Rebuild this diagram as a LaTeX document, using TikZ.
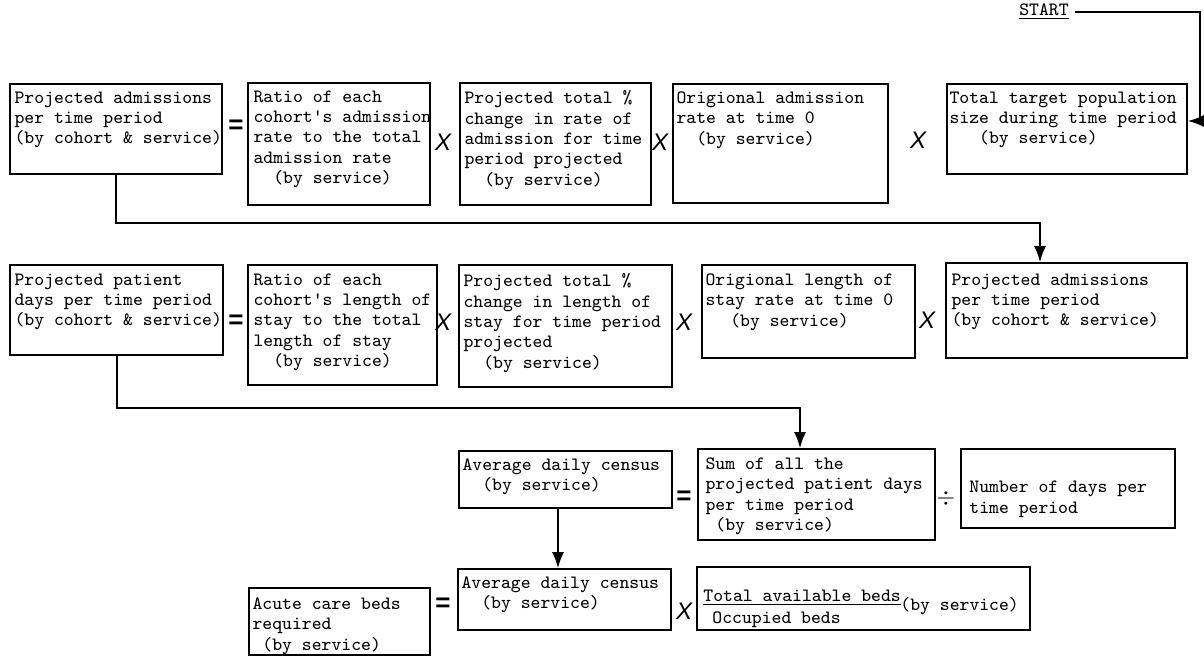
\documentclass[tikz,border=0pt]{standalone}
\usepackage{fontspec}
\usetikzlibrary{fit,arrows.meta}
\newfontfamily\opfont{Liberation Sans}
\newcommand\indc[1]{\hspace*{#1\fontdimen2\font}}
\tikzset{
  box/.style={draw, line width=0.8pt, inner sep=0pt},
  txt/.style={anchor=north west, inner sep=0pt, align=left,
    font=\ttfamily\fontsize{9.4}{10.2}\selectfont},
  conn/.style={line width=1pt},
  arr/.style={conn, -{Latex[length=8pt,width=6pt]}},
  op/.style={inner sep=0pt, font=\opfont\itshape\fontsize{12}{12}\selectfont},
  eqop/.style={inner sep=0pt, font=\opfont\bfseries\fontsize{13}{13}\selectfont},
}
\begin{document}
\begin{tikzpicture}[x=0.5pt,y=-0.5pt]
\useasboundingbox (0,0) rectangle (1204,657);

% ---- boxes ----
\node[box, fit={(10,84) (222,174)}]   (A1) {};
\node[box, fit={(248,83) (430,205)}]  (A2) {};
\node[box, fit={(460,83) (651,205)}]  (A3) {};
\node[box, fit={(673,84) (888,203)}]  (A4) {};
\node[box, fit={(947,84) (1187,174)}] (A5) {};

\node[box, fit={(10,265) (223,355)}]   (B1) {};
\node[box, fit={(248,265) (437,385)}]  (B2) {};
\node[box, fit={(459,265) (672,387)}]  (B3) {};
\node[box, fit={(702,265) (915,358)}]  (B4) {};
\node[box, fit={(946,263) (1187,358)}] (B5) {};

\node[box, fit={(459,451) (672,508)}]  (Avg1) {};
\node[box, fit={(698,449) (935,540)}]  (Sum) {};
\node[box, fit={(961,449) (1175,528)}] (Num) {};

\node[box, fit={(249,588) (430,655)}]  (Acute) {};
\node[box, fit={(458,569) (671,630)}]  (Avg2) {};
\node[box, fit={(697,567) (1030,630)}] (Beds) {};

% ---- texts ----
\node[txt] (A1t) at ([shift={(5,8)}]A1.north west) {Projected admissions\\per time period\\(by cohort \& service)};
\node[txt] (A2t) at ([shift={(6,8)}]A2.north west) {Ratio of each\\cohort's admission\\rate to the total\\admission rate\\\indc{2}(by service)};
\node[txt] (A3t) at ([shift={(5,8)}]A3.north west) {Projected total \%\\change in rate of\\admission for time\\period projected\\\indc{2}(by service)};
\node[txt] (A4t) at ([shift={(4,8)}]A4.north west) {Origional admission\\rate at time 0\\\indc{2}(by service)};
\node[txt] (A5t) at ([shift={(3,8)}]A5.north west) {Total target population\\size during time period\\\indc{3}(by service)};

\node[txt] (B1t) at ([shift={(5,9)}]B1.north west) {Projected patient\\days per time period\\(by cohort \& service)};
\node[txt] (B2t) at ([shift={(6,9)}]B2.north west) {Ratio of each\\cohort's length of\\stay to the total\\length of stay\\\indc{2}(by service)};
\node[txt] (B3t) at ([shift={(5,9)}]B3.north west) {Projected total \%\\change in length of\\stay for time period\\projected\\\indc{2}(by service)};
\node[txt] (B4t) at ([shift={(4,9)}]B4.north west) {Origional length of\\stay rate at time 0\\\indc{2.5}(by service)};
\node[txt] (B5t) at ([shift={(6,11)}]B5.north west) {Projected admissions\\per time period\\(by cohort \& service)};

\node[txt] (Avg1t) at ([shift={(4,8)}]Avg1.north west) {Average daily census\\\indc{2}(by service)};
\node[txt] (Sumt) at ([shift={(8,9)}]Sum.north west) {Sum of all the\\projected patient days\\per time period\\\indc{1}(by service)};
\node[txt] (Numt) at (969,481) {Number of days per\\time period};

\node[txt] (Acutet) at ([shift={(4,10)}]Acute.north west) {Acute care beds\\required\\\indc{1}(by service)};
\node[txt] (Avg2t) at ([shift={(4,8)}]Avg2.north west) {Average daily census\\\indc{2}(by service)};
\node[txt] (Bedsa) at (703,590) {\underline{Total available beds}};
\node[txt] (Bedsb) at (712,611) {Occupied beds};
\node[txt] (Bedsc) at (900,597) {(by service)};

% ---- operators ----
\node[eqop] (eq1) at (236,127) {=};
\node[op] (x1) at (443,142) {X};
\node[op] (x2) at (660,142) {X};
\node[op] (x3) at (918,140) {X};

\node[eqop] (eq2) at (236,322) {=};
\node[op] (x4) at (443,322) {X};
\node[op] (x5) at (684,322) {X};
\node[op] (x6) at (927,320) {X};

\node[eqop] (eq3) at (684,498) {=};
\node[eqop] (dv) at (946,498) {$\div$};

\node[eqop] (eq4) at (443,605) {=};
\node[op] (x7) at (684,611) {X};

% ---- START ----
\node[txt, anchor=center] (start) at (1044,12) {\underline{START}};
\coordinate (s2) at (1200,121);
\draw[arr] ([xshift=3pt]start.east) -| (s2) -- (s2 -| A5.east);

% ---- connectors ----
\coordinate (k1) at (1040,223);
\draw[arr] (A1.south) |- (k1) -- (k1 |- B5.north);
\coordinate (k2) at (800,408);
\draw[arr] (B1.south) |- (k2) -- (k2 |- Sum.north);
\coordinate (k3) at (558,0);
\draw[arr] (Avg1.south -| k3) -- (Avg2.north -| k3);
\end{tikzpicture}
\end{document}
